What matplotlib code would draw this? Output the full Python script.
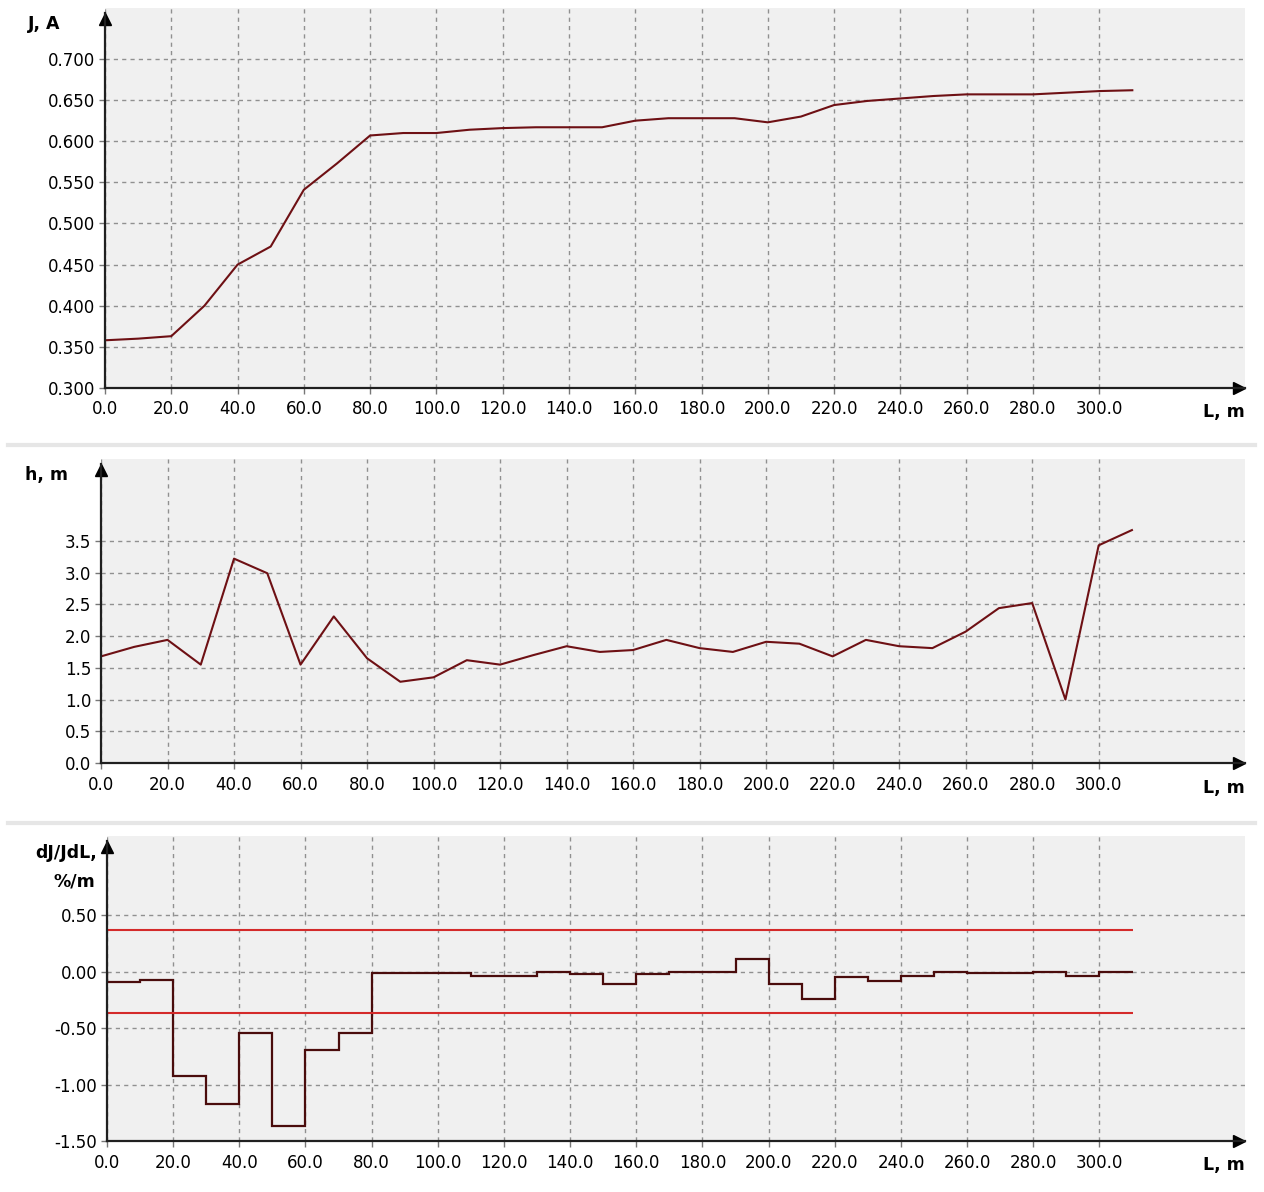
import numpy as np
import matplotlib.pyplot as plt
from matplotlib import transforms
from matplotlib.lines import Line2D

W, H = 1264, 1192

# distance along the line, m
dist = np.arange(0, 320, 10)
# current J, A
current = [0.358, 0.360, 0.363, 0.400, 0.450, 0.472, 0.541, 0.573, 0.607, 0.610,
           0.610, 0.614, 0.616, 0.617, 0.617, 0.617, 0.625, 0.628, 0.628, 0.628,
           0.623, 0.630, 0.644, 0.649, 0.652, 0.655, 0.657, 0.657, 0.657, 0.659,
           0.661, 0.662]
# depth h, m
depth = [1.68, 1.83, 1.94, 1.55, 3.22, 2.99, 1.55, 2.31, 1.65, 1.28,
         1.35, 1.62, 1.55, 1.70, 1.84, 1.75, 1.78, 1.94, 1.81, 1.75,
         1.91, 1.88, 1.68, 1.94, 1.84, 1.81, 2.07, 2.44, 2.52, 1.00,
         3.43, 3.67]
# attenuation dJ/JdL, %/m, one value per 10 m section
dj_edges = np.arange(0, 320, 10)
dj = [-0.09, -0.075, -0.925, -1.17, -0.54, -1.37, -0.69, -0.54, -0.015, -0.015,
      -0.015, -0.035, -0.035, -0.005, -0.02, -0.11, -0.025, -0.005, -0.005, 0.115,
      -0.11, -0.245, -0.05, -0.08, -0.035, 0.0, -0.015, -0.015, 0.0, -0.04, 0.0]
dj_limit = 0.37

xticks = np.arange(0, 301, 20)

fig = plt.figure(figsize=(W / 100, H / 100), dpi=100)


def px_box(left, top, bottom, right=1245):
    return [left / W, 1 - bottom / H, (right - left) / W, (bottom - top) / H]


def setup(ax, ylim, yticks, yfmt):
    ax.set_facecolor('#f0f0f0')
    ax.set_xlim(0, 344)
    ax.set_ylim(*ylim)
    ax.set_xticks(xticks)
    ax.set_xticklabels(['%.1f' % v for v in xticks])
    ax.set_yticks(yticks)
    ax.set_yticklabels([yfmt % v for v in yticks])
    ax.grid(True, color='#909090', linestyle=(0, (3, 3)), linewidth=1)
    ax.set_axisbelow(True)
    for s in ['top', 'right']:
        ax.spines[s].set_visible(False)
    for s in ['left', 'bottom']:
        ax.spines[s].set_linewidth(1.6)
        ax.spines[s].set_color('#202020')
    # keep the y axis a little short of the top, arrow sits on its end
    y0, y1 = ax.get_ylim()
    ax.spines['left'].set_bounds(y0, y1 - (y1 - y0) * 5 / (ax.bbox.height))
    ax.tick_params(axis='both', labelsize=12, length=4, width=1, color='#777777')
    ax.tick_params(axis='x', pad=5)
    ax.tick_params(axis='y', pad=3)
    tr = transforms.offset_copy(ax.transAxes, fig, x=-6, y=0, units='dots')
    ax.plot(1, 0, '>', color='black', ms=9, transform=tr, clip_on=False)
    tr = transforms.offset_copy(ax.transAxes, fig, x=0, y=-11, units='dots')
    ax.plot(0, 1, '^', color='black', ms=9, transform=tr, clip_on=False)


def ftext(x, y, s, ha='center'):
    fig.text(x / W, 1 - y / H, s, ha=ha, va='center', fontsize=12.5, fontweight='bold')


# top: current
ax1 = fig.add_axes(px_box(105, 8, 388))
setup(ax1, (0.300, 0.762), np.arange(0.30, 0.701, 0.05), '%.3f')
ax1.plot(dist, current, color='#6e1014', lw=1.5)
ftext(44, 24, 'J, A')
ftext(1245, 412, 'L, m', ha='right')

# middle: depth
ax2 = fig.add_axes(px_box(101, 459, 763))
setup(ax2, (0.0, 4.79), np.arange(0.0, 3.51, 0.5), '%.1f')
ax2.plot(dist, depth, color='#6e1014', lw=1.5)
ftext(47, 475, 'h, m')
ftext(1245, 788, 'L, m', ha='right')

# bottom: attenuation
ax3 = fig.add_axes(px_box(107, 836, 1141))
setup(ax3, (-1.50, 1.20), np.arange(-1.5, 0.51, 0.5), '%.2f')
ax3.hlines([dj_limit, -dj_limit], 0, 310, color='#d42a2a', lw=1.5)
ax3.stairs(dj, dj_edges, baseline=0, color='#4a0c0c', lw=1.6)
ftext(97, 853, 'dJ/JdL,', ha='right')
ftext(95, 881, '%/m', ha='right')
ftext(1245, 1165, 'L, m', ha='right')

# light separators between panels
for yy in (445, 823):
    fig.add_artist(Line2D([8 / W, 1255 / W], [1 - yy / H, 1 - yy / H],
                          color='#e6e6e6', lw=3))

fig.savefig('out.png', dpi=100)
